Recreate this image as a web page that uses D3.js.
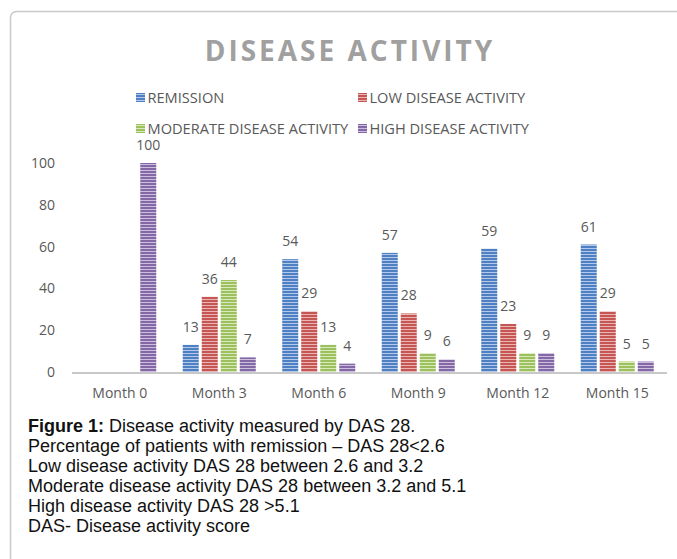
<!DOCTYPE html>
<html>
<head>
<meta charset="utf-8">
<script src="https://cdn.jsdelivr.net/npm/d3@7"></script>
<style>
  html, body { margin: 0; padding: 0; background: #fff; }
  svg { display: block; }
</style>
</head>
<body>
<svg id="chart" width="677" height="559"></svg>
<script>
// Months on the x axis
const months = ["Month 0", "Month 3", "Month 6", "Month 9", "Month 12", "Month 15"];
// Series names (legend order)
const seriesNames = ["REMISSION", "LOW DISEASE ACTIVITY", "MODERATE DISEASE ACTIVITY", "HIGH DISEASE ACTIVITY"];
// Percentage of patients per month; null = no bar
const remission = [null, 13, 54, 57, 59, 61];
const lowActivity = [null, 36, 29, 28, 23, 29];
const moderateActivity = [null, 44, 13, 9, 9, 5];
const highActivity = [100, 7, 4, 6, 9, 5];
// Y axis ticks
const yTicks = [0, 20, 40, 60, 80, 100];
// Caption lines below the chart
const captionLines = [
  "Percentage of patients with remission \u2013 DAS 28<2.6",
  "Low disease activity DAS 28 between 2.6 and 3.2",
  "Moderate disease activity DAS 28 between 3.2 and 5.1",
  "High disease activity DAS 28 >5.1",
  "DAS- Disease activity score"
];

const seriesValues = [remission, lowActivity, moderateActivity, highActivity];
const colors = [
  { dark: "#4f81c2", light: "#b3c8ea" },
  { dark: "#c45653", light: "#ebb4b2" },
  { dark: "#9cc05d", light: "#d8e9bb" },
  { dark: "#8468a6", light: "#cbbfdf" }
];

const svg = d3.select("#chart");
const font = "'Open Sans', sans-serif";
const textGray = "#595959";

// Outer frame with a rounded corner running off the right and bottom edges
svg.append("rect")
  .attr("x", 10.5).attr("y", 11.5)
  .attr("width", 700).attr("height", 600)
  .attr("rx", 6).attr("ry", 6)
  .attr("fill", "none")
  .attr("stroke", "#c9c9c9")
  .attr("stroke-width", 1.5);

// Horizontal stripe patterns for each series
const defs = svg.append("defs");
colors.forEach((c, i) => {
  const p = defs.append("pattern")
    .attr("id", "stripe" + i)
    .attr("patternUnits", "userSpaceOnUse")
    .attr("width", 6).attr("height", 3);
  p.append("rect").attr("width", 6).attr("height", 3).attr("fill", c.dark);
  p.append("rect").attr("y", 2).attr("width", 6).attr("height", 1).attr("fill", c.light);
});

// Title
svg.append("text")
  .attr("x", 350).attr("y", 61)
  .attr("text-anchor", "middle")
  .attr("font-family", font)
  .attr("font-weight", "bold")
  .attr("font-size", 28)
  .attr("letter-spacing", 3)
  .attr("fill", "#a0a0a0")
  .text("DISEASE ACTIVITY");

// Legend (2 x 2)
const legendPos = [
  { x: 136, y: 98 }, { x: 358, y: 98 },
  { x: 136, y: 129 }, { x: 358, y: 129 }
];
seriesNames.forEach((name, i) => {
  const g = svg.append("g").attr("transform", `translate(${legendPos[i].x},${legendPos[i].y})`);
  g.append("rect")
    .attr("x", 0).attr("y", -5)
    .attr("width", 9).attr("height", 9)
    .attr("fill", `url(#stripe${i})`);
  g.append("text")
    .attr("x", 11.5).attr("y", 5)
    .attr("font-family", font)
    .attr("font-size", 14.6)
    .attr("fill", textGray)
    .text(name);
});

// Scales
const x0 = d3.scaleBand().domain(months).range([70, 667]).paddingInner(0.236).paddingOuter(0.118);
const x1 = d3.scaleBand().domain(d3.range(seriesNames.length)).range([0, x0.bandwidth()]).paddingInner(0.158).paddingOuter(0.079);
const y = d3.scaleLinear().domain([0, 100]).range([372, 163]);

// Y tick labels
svg.append("g").selectAll("text")
  .data(yTicks)
  .join("text")
  .attr("x", 55)
  .attr("y", d => y(d) + 5)
  .attr("text-anchor", "end")
  .attr("font-family", font)
  .attr("font-size", 14)
  .attr("fill", textGray)
  .text(d => d);

// Bars and value labels
const barData = [];
seriesValues.forEach((vals, s) => {
  vals.forEach((v, m) => {
    if (v !== null) barData.push({ s, month: months[m], v });
  });
});

svg.append("g").selectAll("rect")
  .data(barData)
  .join("rect")
  .attr("x", d => x0(d.month) + x1(d.s))
  .attr("y", d => y(d.v))
  .attr("width", x1.bandwidth())
  .attr("height", d => y(0) - y(d.v))
  .attr("fill", d => `url(#stripe${d.s})`);

svg.append("g").selectAll("text")
  .data(barData)
  .join("text")
  .attr("x", d => x0(d.month) + x1(d.s) + x1.bandwidth() / 2)
  .attr("y", d => y(d.v) - 13)
  .attr("text-anchor", "middle")
  .attr("font-family", font)
  .attr("font-size", 14)
  .attr("fill", textGray)
  .text(d => d.v);

// Category axis baseline
svg.append("line")
  .attr("x1", 72).attr("x2", 667)
  .attr("y1", y(0) + 1).attr("y2", y(0) + 1)
  .attr("stroke", "#c8c8c8")
  .attr("stroke-width", 2);

// Category labels
const xAxis = d3.axisBottom(x0).tickSize(0).tickPadding(0);
const xg = svg.append("g").attr("transform", `translate(0,${y(0)})`).call(xAxis);
xg.select(".domain").remove();
xg.selectAll("text")
  .attr("y", 26)
  .attr("dy", 0)
  .attr("font-family", font)
  .attr("font-size", 14)
  .attr("fill", textGray);

// Caption
const cap = svg.append("text")
  .attr("font-family", "'Liberation Sans', Arial, sans-serif")
  .attr("font-size", 18)
  .attr("fill", "#111");
const first = cap.append("tspan").attr("x", 28).attr("y", 432);
first.append("tspan").attr("font-weight", "bold").text("Figure 1:");
first.append("tspan").text(" Disease activity measured by DAS 28.");
captionLines.forEach((line, i) => {
  cap.append("tspan").attr("x", 28).attr("y", 452 + i * 20).text(line);
});
</script>
</body>
</html>
